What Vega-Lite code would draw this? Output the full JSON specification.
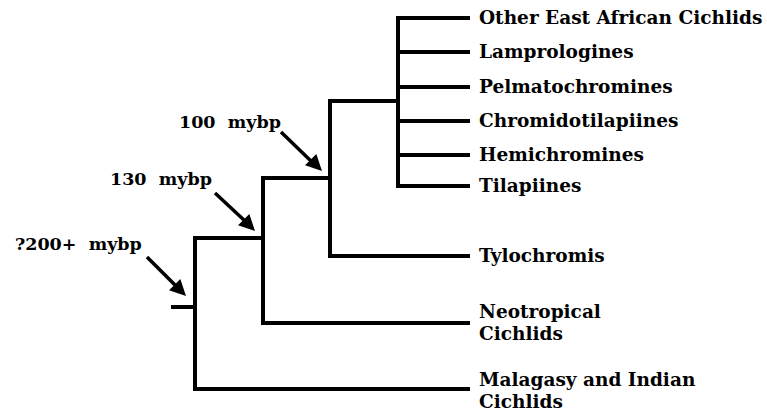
{
  "$schema": "https://vega.github.io/schema/vega-lite/v6.json",
  "width": 767,
  "height": 412,
  "autosize": {"type": "none"},
  "padding": 0,
  "background": "white",
  "config": {"view": {"stroke": null}},
  "datasets": {
    "edges": [
      {"x": 398, "y": 18, "x2": 398, "y2": 186},
      {"x": 398, "y": 18, "x2": 468, "y2": 18},
      {"x": 398, "y": 52, "x2": 468, "y2": 52},
      {"x": 398, "y": 87, "x2": 468, "y2": 87},
      {"x": 398, "y": 121, "x2": 468, "y2": 121},
      {"x": 398, "y": 155, "x2": 468, "y2": 155},
      {"x": 398, "y": 186, "x2": 468, "y2": 186},
      {"x": 330, "y": 101, "x2": 398, "y2": 101},
      {"x": 330, "y": 101, "x2": 330, "y2": 256},
      {"x": 330, "y": 256, "x2": 468, "y2": 256},
      {"x": 263, "y": 178, "x2": 330, "y2": 178},
      {"x": 263, "y": 178, "x2": 263, "y2": 323},
      {"x": 263, "y": 323, "x2": 468, "y2": 323},
      {"x": 195, "y": 238, "x2": 263, "y2": 238},
      {"x": 195, "y": 238, "x2": 195, "y2": 389},
      {"x": 195, "y": 389, "x2": 468, "y2": 389},
      {"x": 173, "y": 307, "x2": 195, "y2": 307}
    ],
    "arrows": [
      {"x": 281, "y": 132, "x2": 312, "y2": 162, "tx": 322, "ty": 171},
      {"x": 215, "y": 193, "x2": 245, "y2": 221, "tx": 255, "ty": 231},
      {"x": 147, "y": 257, "x2": 176, "y2": 286, "tx": 186, "ty": 296}
    ],
    "leaves": [
      {"x": 479, "y": 18, "label": "Other East African Cichlids"},
      {"x": 479, "y": 52, "label": "Lamprologines"},
      {"x": 479, "y": 87, "label": "Pelmatochromines"},
      {"x": 479, "y": 121, "label": "Chromidotilapiines"},
      {"x": 479, "y": 155, "label": "Hemichromines"},
      {"x": 479, "y": 186, "label": "Tilapiines"},
      {"x": 479, "y": 256, "label": "Tylochromis"},
      {"x": 479, "y": 312, "label": "Neotropical\nCichlids"},
      {"x": 479, "y": 380, "label": "Malagasy and Indian\nCichlids"}
    ],
    "nodes": [
      {"x": 179, "y": 128, "label": "100\u00a0 mybp"},
      {"x": 110, "y": 185, "label": "130\u00a0 mybp"},
      {"x": 15, "y": 250, "label": "?200+\u00a0 mybp"}
    ]
  },
  "layer": [
    {
      "data": {"name": "edges"},
      "mark": {"type": "rule", "color": "black", "strokeWidth": 4, "strokeCap": "square"},
      "encoding": {
        "x": {"field": "x", "type": "quantitative", "scale": {"domain": [0, 767], "nice": false, "zero": false}, "axis": null},
        "y": {"field": "y", "type": "quantitative", "scale": {"domain": [0, 412], "nice": false, "zero": false, "reverse": true}, "axis": null},
        "x2": {"field": "x2"},
        "y2": {"field": "y2"}
      }
    },
    {
      "data": {"name": "arrows"},
      "mark": {"type": "rule", "color": "black", "strokeWidth": 3.5},
      "encoding": {
        "x": {"field": "x", "type": "quantitative", "scale": {"domain": [0, 767], "nice": false, "zero": false}, "axis": null},
        "y": {"field": "y", "type": "quantitative", "scale": {"domain": [0, 412], "nice": false, "zero": false, "reverse": true}, "axis": null},
        "x2": {"field": "x2"},
        "y2": {"field": "y2"}
      }
    },
    {
      "data": {"name": "arrows"},
      "mark": {"type": "point", "shape": "M0,0L-2,-1L-2,1Z", "filled": true, "color": "black", "opacity": 1, "size": 256, "angle": 45, "strokeWidth": 0},
      "encoding": {
        "x": {"field": "tx", "type": "quantitative", "scale": {"domain": [0, 767], "nice": false, "zero": false}, "axis": null},
        "y": {"field": "ty", "type": "quantitative", "scale": {"domain": [0, 412], "nice": false, "zero": false, "reverse": true}, "axis": null}
      }
    },
    {
      "data": {"name": "leaves"},
      "mark": {"type": "text", "align": "left", "baseline": "middle", "font": "DejaVu Serif", "fontWeight": "bold", "fontSize": 18.5, "lineBreak": "\n", "lineHeight": 22, "color": "black"},
      "encoding": {
        "x": {"field": "x", "type": "quantitative", "scale": {"domain": [0, 767], "nice": false, "zero": false}, "axis": null},
        "y": {"field": "y", "type": "quantitative", "scale": {"domain": [0, 412], "nice": false, "zero": false, "reverse": true}, "axis": null},
        "text": {"field": "label"}
      }
    },
    {
      "data": {"name": "nodes"},
      "mark": {"type": "text", "align": "left", "baseline": "alphabetic", "font": "DejaVu Serif", "fontWeight": "bold", "fontSize": 17.5, "color": "black"},
      "encoding": {
        "x": {"field": "x", "type": "quantitative", "scale": {"domain": [0, 767], "nice": false, "zero": false}, "axis": null},
        "y": {"field": "y", "type": "quantitative", "scale": {"domain": [0, 412], "nice": false, "zero": false, "reverse": true}, "axis": null},
        "text": {"field": "label"}
      }
    }
  ]
}
